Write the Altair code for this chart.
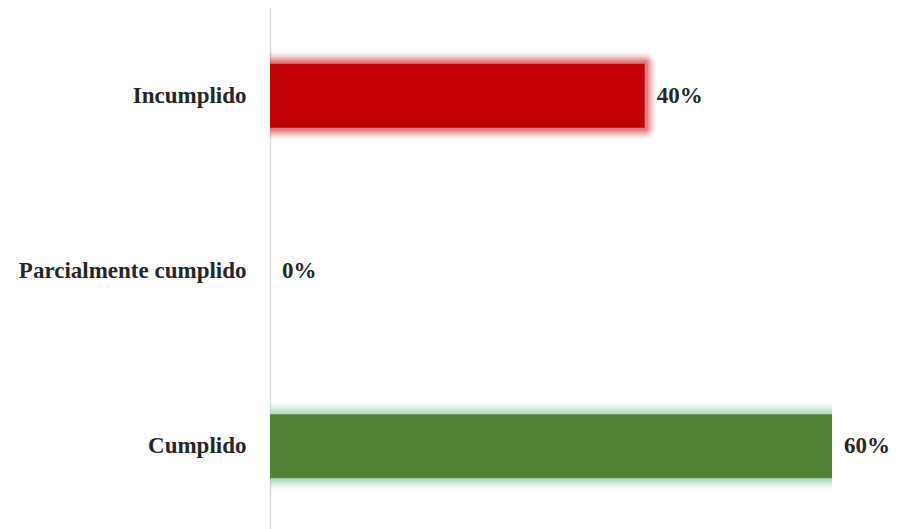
import altair as alt
import pandas as pd

categories = ["Incumplido", "Parcialmente cumplido", "Cumplido"]
values = [0.40, 0.0, 0.60]
bar_colors = ["#C00000", "#7F7F7F", "#548235"]
glow_colors = ["#D65C5C", "#FFFFFF", "#9ED9B0"]

df = pd.DataFrame({"cat": categories, "val": values})

y_enc = alt.Y("cat:N", sort=categories, title=None,
              scale=alt.Scale(paddingInner=0.635, paddingOuter=0.3175),
              axis=alt.Axis(labelFont="Liberation Serif", labelFontSize=23,
                            labelFontWeight="bold", labelColor="#262626",
                            labelPadding=24, labelLimit=400, ticks=False,
                            domainColor="#D9D9D9", domainWidth=1.5, grid=False))
x_enc = alt.X("val:Q", scale=alt.Scale(domain=[0, 0.6], nice=False), axis=None)

base = alt.Chart(df).encode(y=y_enc, x=x_enc)

glow_scale = alt.Scale(domain=categories, range=glow_colors)
layers = []
for w, a in [(22, 0.1), (18, 0.14), (14, 0.22), (10, 0.32), (6, 0.5)]:
    layers.append(
        base.transform_filter(alt.datum.val > 0)
        .mark_bar(fillOpacity=0, strokeWidth=w, strokeOpacity=a, clip=True,
                  strokeJoin="round")
        .encode(stroke=alt.Stroke("cat:N", scale=glow_scale, legend=None))
    )

bars = base.transform_filter(alt.datum.val > 0).mark_bar(clip=True).encode(
    color=alt.Color("cat:N", scale=alt.Scale(domain=categories, range=bar_colors), legend=None)
)

labels = base.mark_text(align="left", dx=12, font="Liberation Serif", fontSize=23,
                        fontWeight="bold", color="#262626").encode(
    text=alt.Text("val:Q", format=".0%")
)

chart = alt.layer(*layers, bars, labels).properties(
    width=562, height=526,
    autosize=alt.AutoSizeParams(type="none"),
    padding={"left": 262, "top": 0, "right": 58, "bottom": 0},
).configure_view(stroke=None)

chart.save("out.html", embed_options={"renderer": "svg", "actions": False})
